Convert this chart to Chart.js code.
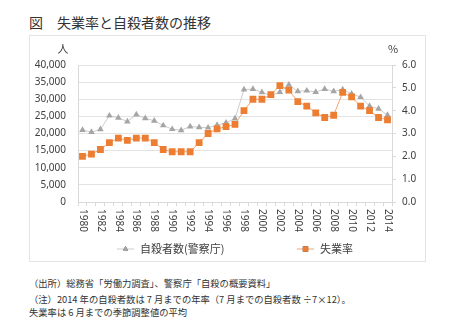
<!DOCTYPE html>
<html>
<head>
<meta charset="utf-8">
<script src="https://cdn.jsdelivr.net/npm/chart.js@4.4.1/dist/chart.umd.min.js"></script>
<style>
  body { margin: 0; width: 450px; height: 325px; background: #fff; position: relative; overflow: hidden;
         font-family: "Noto Sans CJK JP", sans-serif; color: #333; }
  #title { position: absolute; left: 29px; top: 12px; font-size: 14px; line-height: 20px; }
  #frame { position: absolute; left: 29px; top: 35px; width: 395px; height: 225px; border: 1px solid #e4e4e4; }
  #chart { position: absolute; left: 30px; top: 36px; }
  .note { position: absolute; left: 29px; font-size: 9.3px; line-height: 12px; white-space: nowrap; }
</style>
</head>
<body>
<div id="title">図　失業率と自殺者数の推移</div>
<div id="frame"></div>
<canvas id="chart" width="395" height="225"></canvas>
<div class="note" style="top:277px">（出所）総務省「労働力調査」、警察庁「自殺の概要資料」</div>
<div class="note" style="top:293px">（注）2014 年の自殺者数は 7 月までの年率（7 月までの自殺者数 ÷7×12）。</div>
<div class="note" style="top:306px">失業率は 6 月までの季節調整値の平均</div>

<script>
// years on the x axis
const years = ['1980', '1981', '1982', '1983', '1984', '1985', '1986', '1987', '1988', '1989',
               '1990', '1991', '1992', '1993', '1994', '1995', '1996', '1997', '1998', '1999',
               '2000', '2001', '2002', '2003', '2004', '2005', '2006', '2007', '2008', '2009',
               '2010', '2011', '2012', '2013', '2014'];

// suicides (people), left axis
const suicides = [21000, 20400, 21230, 25200, 24600, 23500, 25500, 24450, 23700, 22350,
                  21250, 20950, 22050, 21800, 21700, 22450, 23150, 24350, 32800, 33000,
                  32000, 31100, 32100, 34200, 32300, 32500, 32100, 33000, 32300, 32800,
                  31600, 30600, 28000, 27200, 25400];

// unemployment rate (%), right axis
const unemployment = [2.0, 2.1, 2.3, 2.6, 2.8, 2.7, 2.8, 2.8, 2.6, 2.3,
                      2.2, 2.2, 2.2, 2.6, 3.0, 3.2, 3.3, 3.4, 4.0, 4.5,
                      4.5, 4.7, 5.1, 4.9, 4.4, 4.2, 3.9, 3.7, 3.8, 4.8,
                      4.6, 4.2, 4.0, 3.7, 3.6];

const leftTicks = [0, 5000, 10000, 15000, 20000, 25000, 30000, 35000, 40000];
const rightTicks = [0, 1, 2, 3, 4, 5, 6];

const seriesNames = ['自殺者数(警察庁)', '失業率'];

const textColor = '#404040';
const gridColor = '#e3e3e3';
const numFont = { family: '"Noto Sans", sans-serif', size: 10 };

// draws unit labels, vertical year labels and the legend
const extrasPlugin = {
    id: 'extras',
    afterDraw(chart) {
        const ctx = chart.ctx;
        const xs = chart.scales.x;
        ctx.save();
        ctx.fillStyle = textColor;

        // unit labels
        ctx.font = '11px "Noto Sans CJK JP"';
        ctx.textAlign = 'center';
        ctx.textBaseline = 'middle';
        ctx.fillText('人', 33, 13);
        ctx.fillText('%', 363, 13);

        // year labels, every second year, rotated clockwise
        ctx.font = '10px "Noto Sans", sans-serif';
        ctx.textAlign = 'left';
        years.forEach((y, i) => {
            if (i % 2 !== 0) return;
            const px = xs.getPixelForValue(i);
            ctx.save();
            ctx.translate(px, xs.top + 7);
            ctx.rotate(Math.PI / 2);
            ctx.fillText(y, 0, 0);
            ctx.restore();
        });

        // legend
        const ly = 213;
        const items = [
            { x: 87, ds: chart.data.datasets[0] },
            { x: 267, ds: chart.data.datasets[1] }
        ];
        ctx.font = '11px "Noto Sans CJK JP"';
        items.forEach(it => {
            ctx.strokeStyle = it.ds.borderColor;
            ctx.lineWidth = 1;
            ctx.beginPath();
            ctx.moveTo(it.x, ly);
            ctx.lineTo(it.x + 17, ly);
            ctx.stroke();
            Chart.helpers.drawPoint(ctx, {
                pointStyle: it.ds.pointStyle,
                radius: it.ds.pointRadius * 0.8,
                borderWidth: 0
            }, it.x + 8.5, ly);
            ctx.fillStyle = it.ds.pointBackgroundColor;
            ctx.fill();
            ctx.fillStyle = textColor;
            ctx.fillText(it.ds.label, it.x + 23, ly);
        });
        ctx.restore();
    }
};

new Chart(document.getElementById('chart'), {
    type: 'line',
    data: {
        labels: years,
        datasets: [
            {
                label: seriesNames[0],
                data: suicides,
                yAxisID: 'y',
                borderColor: '#cccccc',
                borderWidth: 1,
                pointStyle: 'triangle',
                pointRadius: 3.8,
                pointBackgroundColor: '#a5a5a5',
                pointBorderColor: '#a5a5a5',
                pointBorderWidth: 0,
                order: 1
            },
            {
                label: seriesNames[1],
                data: unemployment,
                yAxisID: 'y1',
                borderColor: '#f2a46f',
                borderWidth: 1,
                pointStyle: 'rect',
                pointRadius: 4.8,
                pointBackgroundColor: '#ed7d31',
                pointBorderColor: '#ed7d31',
                pointBorderWidth: 0,
                order: 0
            }
        ]
    },
    options: {
        responsive: false,
        animation: false,
        devicePixelRatio: 1,
        layout: { padding: { top: 29, left: 0, right: 0, bottom: 0 } },
        plugins: { legend: { display: false }, tooltip: { enabled: false } },
        scales: {
            x: {
                offset: true,
                afterFit: s => { s.height = 59; },
                grid: { drawOnChartArea: false, drawTicks: true, tickLength: 4, color: '#d9d9d9', offset: true },
                border: { color: '#d9d9d9' },
                ticks: { display: false, autoSkip: false }
            },
            y: {
                position: 'left',
                min: 0,
                max: 40000,
                afterFit: s => { s.width = 48; },
                afterBuildTicks: s => { s.ticks = leftTicks.map(v => ({ value: v })); },
                grid: { color: gridColor, drawTicks: false },
                border: { color: '#d9d9d9' },
                ticks: {
                    padding: 12,
                    color: textColor,
                    font: numFont,
                    callback: v => v.toLocaleString('en-US')
                }
            },
            y1: {
                position: 'right',
                min: 0,
                max: 6,
                afterFit: s => { s.width = 33; },
                afterBuildTicks: s => { s.ticks = rightTicks.map(v => ({ value: v })); },
                grid: { drawOnChartArea: false, drawTicks: true, tickLength: 4, color: '#d9d9d9' },
                border: { color: '#d9d9d9' },
                ticks: {
                    padding: 6,
                    color: textColor,
                    font: numFont,
                    callback: v => v.toFixed(1)
                }
            }
        }
    },
    plugins: [extrasPlugin]
});
</script>
</body>
</html>
